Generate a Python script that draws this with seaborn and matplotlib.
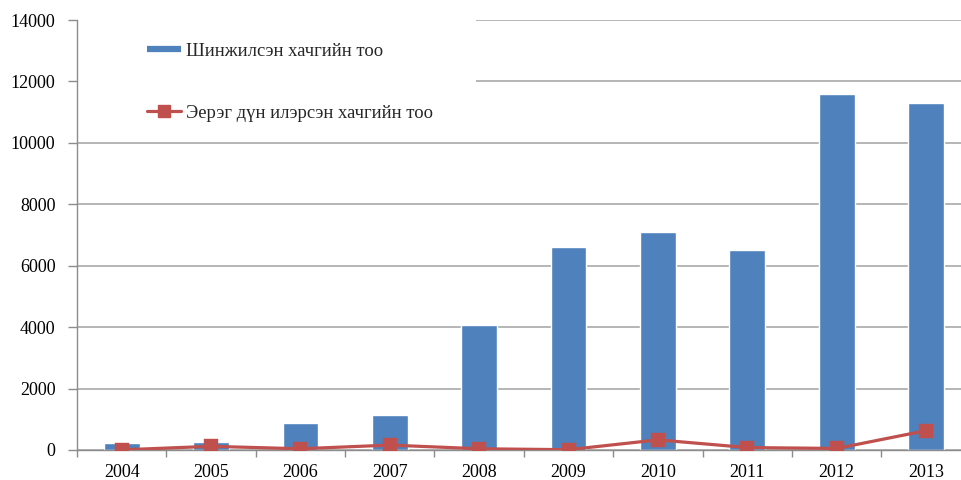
import pandas as pd
import seaborn as sns
import matplotlib.pyplot as plt
from matplotlib.lines import Line2D
from matplotlib.patches import Rectangle

years = ['2004', '2005', '2006', '2007', '2008', '2009', '2010', '2011', '2012', '2013']
tested = [240, 270, 890, 1150, 4070, 6610, 7100, 6500, 11600, 11310]
positive = [5, 120, 40, 160, 40, 10, 330, 80, 50, 630]

label_tested = 'Шинжилсэн хачгийн тоо'
label_positive = 'Эерэг дүн илэрсэн хачгийн тоо'

BLUE = '#4F81BD'
RED = '#C0504D'
GRID = '#B5B5B5'
AXIS = '#8C8C8C'


def main():
    sns.set_style('white')
    plt.rcParams['font.family'] = ['Liberation Serif', 'DejaVu Serif']
    plt.rcParams['font.size'] = 13

    data = pd.DataFrame({'year': years, 'tested': tested, 'positive': positive})

    fig = plt.figure(figsize=(9.61, 4.80), dpi=100)
    ax = fig.add_axes([0.0801, 0.0625, 0.930, 0.8958])

    sns.barplot(data=data, x='year', y='tested', order=years, color=BLUE,
                width=0.40, saturation=1, ax=ax, zorder=2)
    sns.pointplot(data=data, x='year', y='positive', order=years, color=RED,
                  markers='s', markersize=9, linewidth=2.3, ax=ax, zorder=3)

    ax.set_xlim(-0.5, 9.5)
    ax.set_ylim(0, 14000)
    ax.set_yticks(range(0, 14001, 2000))
    ax.set_xlabel('')
    ax.set_ylabel('')

    # gridlines and axes
    ax.set_axisbelow(True)
    ax.yaxis.grid(True, color=GRID, linewidth=1.4)
    ax.xaxis.grid(False)
    for side in ['top', 'right']:
        ax.spines[side].set_visible(False)
    for side in ['left', 'bottom']:
        ax.spines[side].set_color(AXIS)
        ax.spines[side].set_linewidth(1.0)

    ax.set_xticks([i + 0.5 for i in range(-1, 10)], minor=True)
    ax.tick_params(axis='x', which='major', length=0, pad=10, labelcolor='black')
    ax.tick_params(axis='x', which='minor', length=5, width=1, color=AXIS,
                   direction='out', bottom=True)
    ax.tick_params(axis='y', length=6.5, width=1, color=AXIS, direction='out',
                   pad=9, left=True, labelcolor='black')

    # white area behind the legend hides the gridlines there
    ax.add_patch(Rectangle((0, 0.75), 0.447, 0.3, transform=ax.transAxes,
                           facecolor='white', edgecolor='none', zorder=1.5,
                           clip_on=False))

    handles = [
        Line2D([], [], color=BLUE, linewidth=4.5, solid_capstyle='butt'),
        Line2D([], [], color=RED, linewidth=2.3, marker='s', markersize=9),
    ]
    ax.legend(handles, [label_tested, label_positive], loc='upper left',
              bbox_to_anchor=(0.0783, 0.947), frameon=False, borderpad=0,
              borderaxespad=0, handlelength=1.85, handletextpad=0.25,
              labelspacing=2.4, fontsize=13.4)

    fig.savefig('out.png', dpi=100)


if __name__ == '__main__':
    main()
